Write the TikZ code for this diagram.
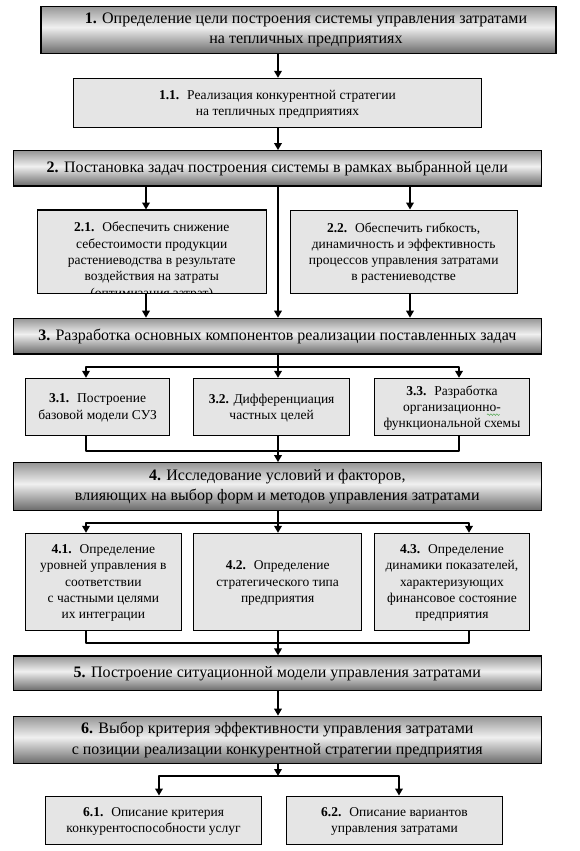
\documentclass[tikz,border=0pt]{standalone}
\usepackage{fontspec}
\setmainfont{Liberation Serif}
\usetikzlibrary{arrows.meta,decorations.pathmorphing}
\definecolor{gtop}{RGB}{150,150,150}
\definecolor{gmid}{RGB}{240,240,240}
\definecolor{gbot}{RGB}{105,105,105}
\definecolor{subfill}{RGB}{229,229,229}
\definecolor{spellgreen}{RGB}{90,170,90}
\pgfdeclareverticalshading{mainshade}{100bp}{color(0bp)=(gbot); color(25bp)=(gbot); color(53bp)=(gmid); color(75bp)=(gtop); color(100bp)=(gtop)}
\tikzset{
 mainbox/.style={draw=black, line width=1.2pt, shading=mainshade, rectangle, inner sep=0pt},
 subbox/.style={draw=black, line width=0.9pt, fill=subfill, rectangle, inner sep=0pt},
 maintext/.style={font=\fontsize{16}{20.5}\selectfont, align=center},
 subtext/.style={font=\fontsize{13.5}{16.3}\selectfont, align=center, text depth=0pt},
 arr/.style={line width=2.3pt, line join=round, -{Triangle[length=7pt,width=7.5pt]}},
 ln/.style={line width=2.3pt, line join=round},
 spell/.style={spellgreen, line width=0.6pt, decorate, decoration={snake, segment length=3pt, amplitude=0.8pt}},
}
\begin{document}
\begin{tikzpicture}[x=1pt,y=-1pt]
\useasboundingbox (0,0) rectangle (579,851);
\fill[white] (0,0) rectangle (579,851);
% columns and branch levels
\coordinate (xc) at (278,0);
\coordinate (xa) at (146,0);
\coordinate (xb) at (410,0);
\coordinate (xl) at (86,0);
\coordinate (xrt) at (459,0);
\coordinate (xrf) at (469,0);
\coordinate (xls) at (159,0);
\coordinate (xrs) at (399,0);
\coordinate (ya) at (0,366.7);
\coordinate (yb) at (0,450.7);
\coordinate (yc) at (0,522.7);
\coordinate (yd) at (0,643.3);
\coordinate (ye) at (0,776);
% boxes
\node[mainbox, minimum width=515pt, minimum height=47.6pt] (b1) at (298.5,30) {};
\node[maintext] (t1) at (306,30) {\textbf{1.} Определение цели построения системы управления затратами\\на тепличных предприятиях};
\node[subbox, subtext, minimum width=408.4pt, minimum height=49pt] (b11) at (277.5,102.8) {\textbf{1.1.}~ Реализация конкурентной стратегии\\на тепличных предприятиях};
\node[mainbox, maintext, minimum width=528pt, minimum height=35.3pt] (b2) at (277.3,168.35) {\textbf{2.} Постановка задач построения системы в рамках выбранной цели};
\node[subbox, minimum width=228.5pt, minimum height=83.3pt] (b21) at (151.75,251.65) {};
\begin{scope}
\clip (b21.south west) rectangle (b21.north east);
\node[subtext, font=\fontsize{13.5}{16.4}\selectfont, anchor=north, yshift=-9pt] (t21) at (b21.north) {\textbf{2.1.}~ Обеспечить снижение\\себестоимости продукции\\растениеводства в результате\\воздействия на затраты\\(оптимизация затрат)};
\end{scope}
\draw[line width=0.9pt] (b21.south west) rectangle (b21.north east);
\node[subbox, subtext, minimum width=227.3pt, minimum height=83.3pt] (b22) at (403.65,251.65) {\textbf{2.2.}~ Обеспечить гибкость,\\динамичность и эффективность\\процессов управления затратами\\в растениеводстве};
\node[mainbox, maintext, minimum width=528pt, minimum height=35.7pt] (b3) at (277.3,336.15) {\textbf{3.} Разработка основных компонентов реализации поставленных задач};
\node[subbox, subtext, minimum width=143.8pt, minimum height=56.7pt] (b31) at (97.6,406.65) {\textbf{3.1.}~ Построение\\базовой модели СУЗ};
\node[subbox, subtext, minimum width=155.8pt, minimum height=56.7pt] (b32) at (271.6,406.65) {\textbf{3.2.} Дифференциация\\частных целей};
\node[subbox, subtext, minimum width=155.5pt, minimum height=56.7pt] (b33) at (451.95,406.65) {\textbf{3.3.}~ Разработка\\организационно-\\функциональной схемы};
\draw[spell] ([xshift=35pt,yshift=-8pt]b33.center) -- ([xshift=48pt,yshift=-8pt]b33.center);
\node[mainbox, maintext, minimum width=528pt, minimum height=47.8pt] (b4) at (277.3,486.6) {\textbf{4.} Исследование условий и факторов,\\влияющих на выбор форм и методов управления затратами};
\node[subbox, subtext, minimum width=155.3pt, minimum height=96.7pt] (b41) at (103.35,581.65) {\textbf{4.1.}~ Определение\\уровней управления в\\соответствии\\с частными целями\\их интеграции};
\node[subbox, subtext, minimum width=168pt, minimum height=96.7pt] (b42) at (277.7,581.65) {\textbf{4.2.}~ Определение\\стратегического типа\\предприятия};
\node[subbox, subtext, minimum width=155.5pt, minimum height=96.7pt] (b43) at (451.95,581.65) {\textbf{4.3.}~ Определение\\динамики показателей,\\характеризующих\\финансовое состояние\\предприятия};
\node[mainbox, maintext, minimum width=528pt, minimum height=34.7pt] (b5) at (277.3,673.35) {\textbf{5.} Построение ситуационной модели управления затратами};
\node[mainbox, maintext, minimum width=528pt, minimum height=47.5pt] (b6) at (277.3,740) {\textbf{6.} Выбор критерия эффективности управления затратами\\с позиции реализации конкурентной стратегии предприятия};
\node[subbox, subtext, minimum width=216.2pt, minimum height=48pt] (b61) at (153.6,820) {\textbf{6.1.}~ Описание критерия\\конкурентоспособности услуг};
\node[subbox, subtext, minimum width=216pt, minimum height=48pt] (b62) at (394.5,820) {\textbf{6.2.}~ Описание вариантов\\управления затратами};
% connectors
\draw[arr] (b1.south -| xc) -- (b11.north -| xc);
\draw[arr] (b11.south -| xc) -- (b2.north -| xc);
\draw[arr] (b2.south -| xa) -- (b21.north -| xa);
\draw[arr] (b2.south -| xb) -- (b22.north -| xb);
\draw[arr] (b2.south -| xc) -- (b3.north -| xc);
\draw[arr] (b21.south -| xa) -- (b3.north -| xa);
\draw[arr] (b22.south -| xb) -- (b3.north -| xb);
% level 3 branch
\draw[arr] (b3.south -| xc) -- (b32.north -| xc);
\draw[arr] (b3.south -| xc) |- (ya -| xl) -- (b31.north -| xl);
\draw[arr] (b3.south -| xc) |- (ya -| xrt) -- (b33.north -| xrt);
\draw[ln] (b31.south -| xl) |- (yb -| xc);
\draw[ln] (b33.south -| xrt) |- (yb -| xc);
\draw[arr] (b32.south -| xc) -- (b4.north -| xc);
% level 4 branch
\draw[arr] (b4.south -| xc) -- (b42.north -| xc);
\draw[arr] (b4.south -| xc) |- (yc -| xl) -- (b41.north -| xl);
\draw[arr] (b4.south -| xc) |- (yc -| xrf) -- (b43.north -| xrf);
\draw[ln] (b41.south -| xl) |- (yd -| xc);
\draw[ln] (b43.south -| xrf) |- (yd -| xc);
\draw[arr] (b42.south -| xc) -- (b5.north -| xc);
\draw[arr] (b5.south -| xc) -- (b6.north -| xc);
% level 6 branch
\draw[arr] (b6.south -| xc) -- (ye -| xc);
\draw[arr] (ye -| xc) -| (b61.north -| xls);
\draw[arr] (ye -| xc) -| (b62.north -| xrs);
\end{tikzpicture}
\end{document}
